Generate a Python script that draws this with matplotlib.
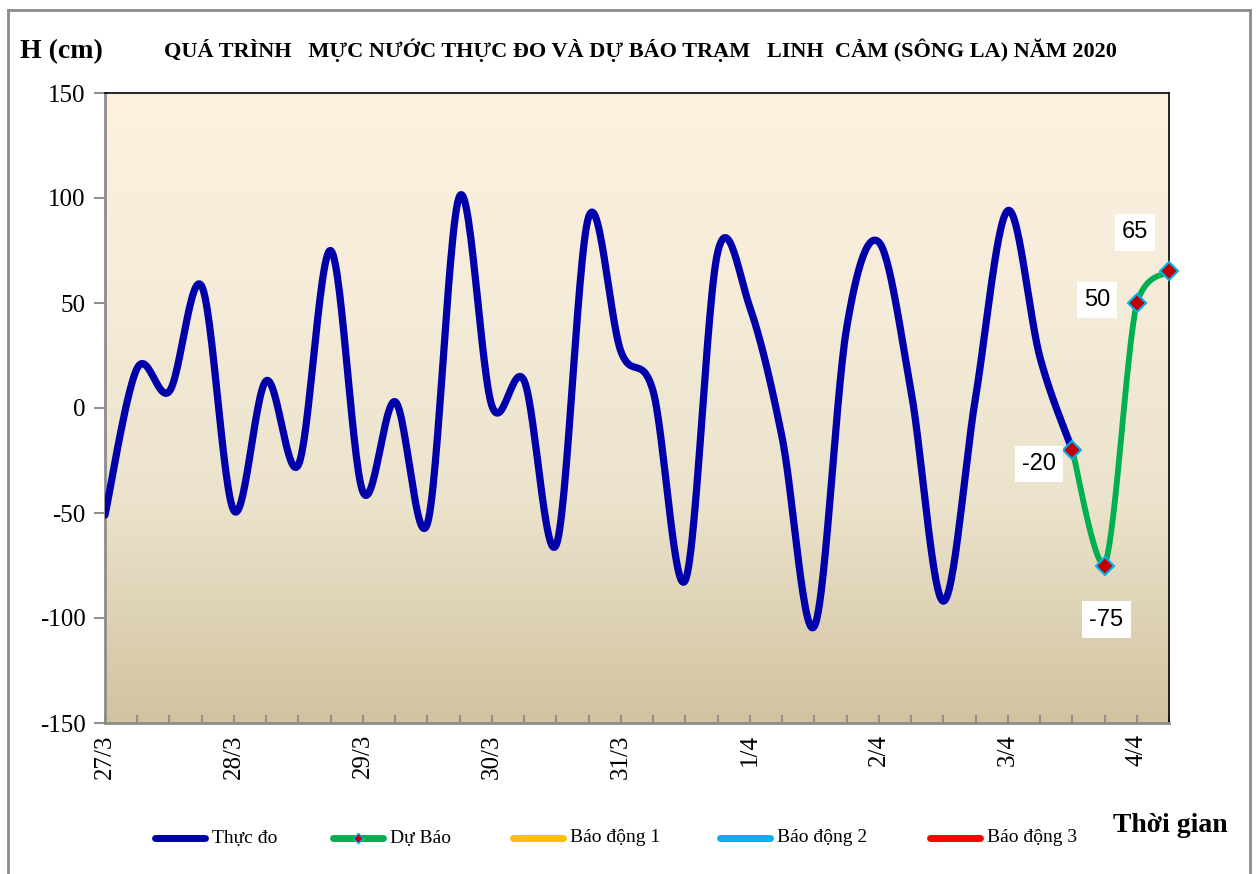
import numpy as np
import matplotlib
matplotlib.use("Agg")
import matplotlib.pyplot as plt
from matplotlib.lines import Line2D
from matplotlib.colors import LinearSegmentedColormap

plt.rcParams["axes.unicode_minus"] = False

# ---------------- data ----------------
observed = [-51, 19, 8, 58, -49, 13, -27, 75, -40, 3, -55, 101, 1, 13, -65, 91,
            27, 8, -82, 74, 48, -14, -104, 38, 79, 8, -92, 5, 94, 24, -20]
forecast = [-20, -75, 50, 65]
forecast_start = 30
day_labels = ["27/3", "28/3", "29/3", "30/3", "31/3", "1/4", "2/4", "3/4", "4/4"]
steps_per_day = 4
title = "QUÁ TRÌNH   MỰC NƯỚC THỰC ĐO VÀ DỰ BÁO TRẠM   LINH  CẢM (SÔNG LA) NĂM 2020"
legend_names = ["Thực đo", "Dự Báo", "Báo động 1", "Báo động 2", "Báo động 3"]
legend_colors = ["#0000AA", "#00B050", "#FFC000", "#00B0F0", "#FF0000"]


def smooth(xs, ys, n=30, clamp=False):
    """Bezier smoothing through the points (like Excel smoothed lines)."""
    xs = np.asarray(xs, float)
    ys = np.asarray(ys, float)
    px = np.concatenate([[xs[0]], xs, [xs[-1]]])
    py = np.concatenate([[ys[0]], ys, [ys[-1]]])
    outx, outy = [], []
    t = np.linspace(0, 1, n)
    for i in range(1, len(px) - 2):
        x0, x1, x2, x3 = px[i - 1:i + 3]
        y0, y1, y2, y3 = py[i - 1:i + 3]
        c1x, c1y = x1 + (x2 - x0) / 6, y1 + (y2 - y0) / 6
        c2x, c2y = x2 - (x3 - x1) / 6, y2 - (y3 - y1) / 6
        if clamp:
            lo, hi = min(y1, y2), max(y1, y2)
            c1y, c2y = np.clip(c1y, lo, hi), np.clip(c2y, lo, hi)
        bx = (1 - t) ** 3 * x1 + 3 * (1 - t) ** 2 * t * c1x + 3 * (1 - t) * t ** 2 * c2x + t ** 3 * x2
        by = (1 - t) ** 3 * y1 + 3 * (1 - t) ** 2 * t * c1y + 3 * (1 - t) * t ** 2 * c2y + t ** 3 * y2
        outx.extend(bx)
        outy.extend(by)
    return np.array(outx), np.array(outy)


W, H = 1256, 874
fig = plt.figure(figsize=(W / 100, H / 100), dpi=100)
fig.patch.set_facecolor("white")

L, R, T, B = 105, 1169, 93, 723
ax = fig.add_axes([L / W, 1 - B / H, (R - L) / W, (B - T) / H])

n_total = forecast_start + len(forecast)
xmax = n_total - 1
ax.set_xlim(0, xmax)
ax.set_ylim(-150, 150)

# background gradient
cmap = LinearSegmentedColormap.from_list(
    "bg", [(0.0, "#D2C3A0"), (0.35, "#ECE3CC"), (0.65, "#F4EBD8"), (1.0, "#FEF2DF")])
grad = np.linspace(0, 1, 256).reshape(-1, 1)
ax.imshow(grad, extent=[0, xmax, -150, 150], origin="lower", aspect="auto",
          cmap=cmap, zorder=0)

# observed
xo = np.arange(len(observed))
sx, sy = smooth(xo, observed)
ax.plot(sx, sy, color="#0000AA", lw=5.2, solid_capstyle="round", zorder=3)

# forecast
xf = np.arange(forecast_start, forecast_start + len(forecast))
fx, fy = smooth(xf, forecast, clamp=True)
ax.plot(fx, fy, color="#00B050", lw=4.2, solid_capstyle="round", zorder=4, clip_on=False)
ax.plot(xf, forecast, ls="none", marker="D", ms=9, mfc="#C00000", mec="#00B0F0",
        mew=1.5, zorder=5, clip_on=False)

offsets = [(-33, -14), (2, -54), (-40, 3), (-34, 39)]
for x, v, off in zip(xf, forecast, offsets):
    ax.annotate(str(v), (x, v), xytext=off, textcoords="offset pixels",
                ha="center", va="center", fontsize=17, family="Liberation Sans",
                bbox=dict(boxstyle="square,pad=0.3", fc="white", ec="none"), zorder=6)

# axes styling
ax.set_yticks(np.arange(-150, 151, 50))
ax.set_xticks(np.arange(0, xmax + 1, 1), minor=True)
ax.set_xticks(np.arange(0, xmax + 1, steps_per_day))
ax.set_xticklabels(day_labels, rotation=90, fontsize=18, family="Liberation Serif")
for lab in ax.get_yticklabels():
    lab.set_fontsize(18)
    lab.set_family("Liberation Serif")
ax.tick_params(axis="x", which="both", direction="in", length=6, width=1.5,
               color="#909090", pad=8)
ax.tick_params(axis="y", direction="out", length=8, width=1.5, color="#909090", pad=6)
for s in ["left", "bottom"]:
    ax.spines[s].set_color("#8C8C8C")
    ax.spines[s].set_linewidth(2)
for s in ["top", "right"]:
    ax.spines[s].set_color("black")
    ax.spines[s].set_linewidth(1.2)

# texts
fig.text(20 / W, 1 - 52 / H, "H (cm)", fontsize=20, fontweight="bold",
         family="Liberation Serif", ha="left", va="center")
fig.text(640 / W, 1 - 50 / H, title, fontsize=16, fontweight="bold",
         family="Liberation Serif", ha="center", va="center")
fig.text(1170 / W, 1 - 826 / H, "Thời gian", fontsize=20, fontweight="bold",
         family="Liberation Serif", ha="center", va="center")

# legend (manually placed entries)
leg_x = [155, 333, 513, 720, 930]
leg_y = 838
for i, (x0, name, col) in enumerate(zip(leg_x, legend_names, legend_colors)):
    fig.add_artist(Line2D([x0 / W, (x0 + 50) / W], [1 - leg_y / H, 1 - leg_y / H],
                          color=col, lw=5, solid_capstyle="round"))
    if i == 1:
        fig.add_artist(Line2D([(x0 + 25) / W], [1 - leg_y / H], ls="none", marker="D",
                              ms=5, mfc="#C00000", mec="#00B0F0", mew=1))
    fig.text((x0 + 57) / W, 1 - leg_y / H, name, fontsize=14,
             family="Liberation Serif", ha="left", va="center")

# figure border
for (x0, y0, x1, y1) in [(8, 10, 1250, 10), (8, 10, 8, 874), (1250, 10, 1250, 874)]:
    fig.add_artist(Line2D([x0 / W, x1 / W], [1 - y0 / H, 1 - y1 / H],
                          color="#8C8C8C", lw=2))

fig.savefig("out.png", dpi=100)
